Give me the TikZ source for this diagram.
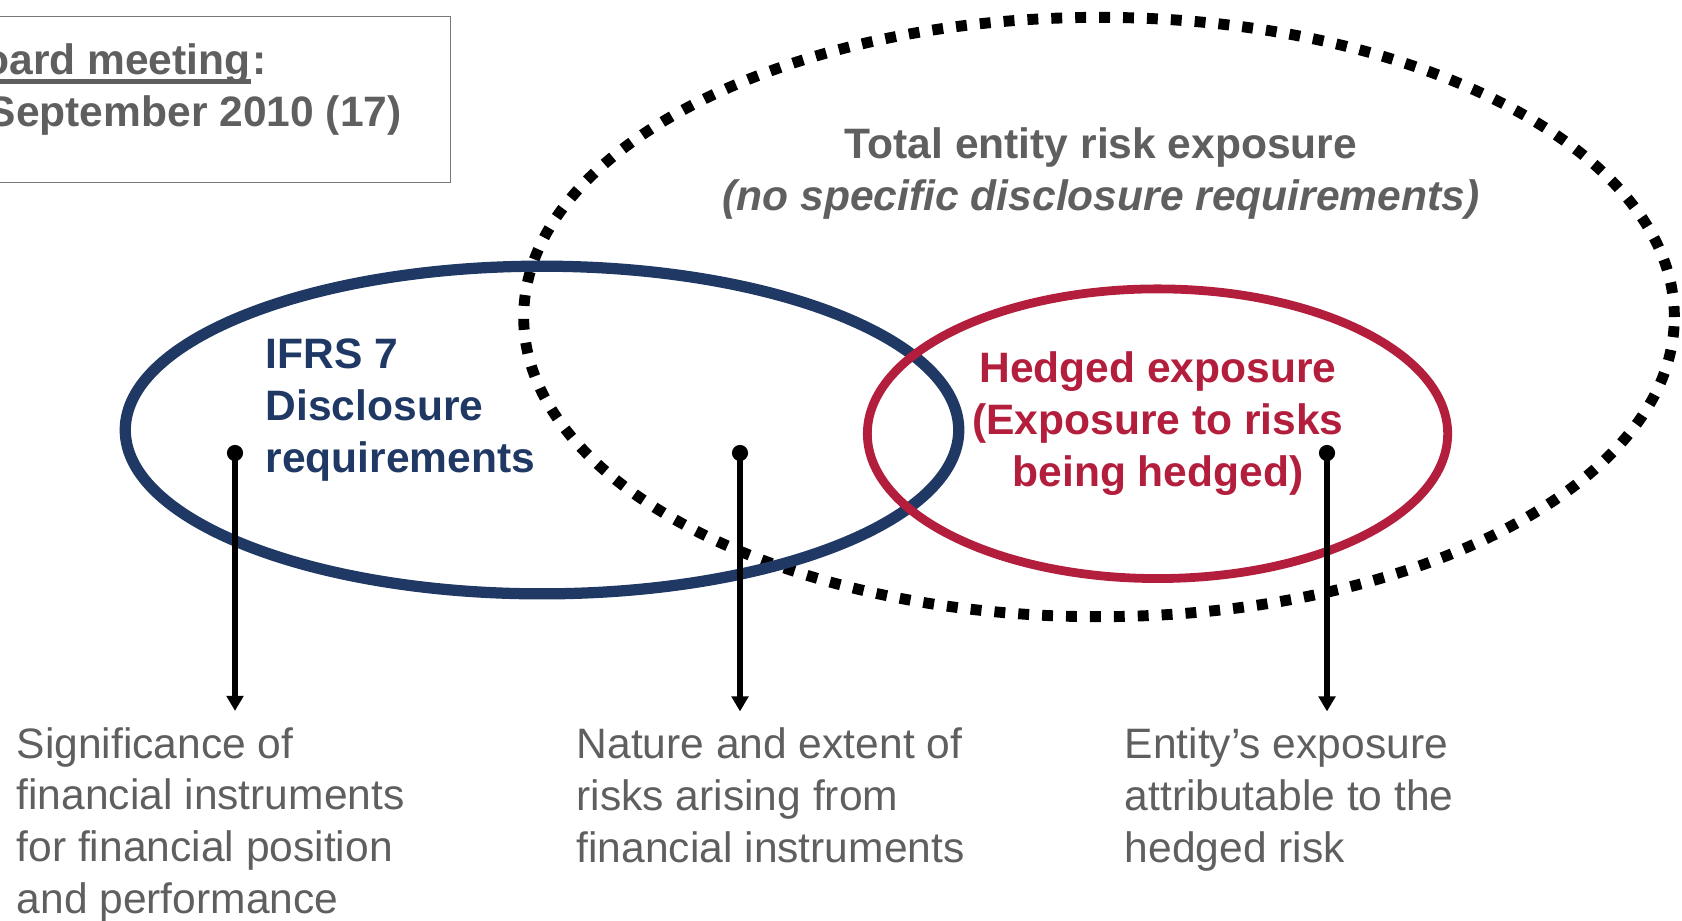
\documentclass[tikz,border=0pt]{standalone}
\usepackage{fontspec}
\setmainfont{Liberation Sans}
\usepackage{xcolor}
\usepackage{tikz}
\usetikzlibrary{arrows.meta,positioning,shapes.geometric}
\definecolor{ifrsblue}{RGB}{31,56,100}
\definecolor{hedgered}{RGB}{179,30,60}
\definecolor{textgray}{RGB}{95,95,95}
\definecolor{boxgray}{RGB}{120,120,120}
\tikzset{
  txt/.style={inner sep=0pt, font=\fontsize{12.1}{14.65}\selectfont},
  plain/.style={txt, text=textgray, align=left, anchor=base west},
  heavy/.style={txt, font=\fontsize{12.1}{14.65}\selectfont\bfseries},
  oval/.style={ellipse, inner sep=0pt},
  dot/.style={circle, fill=black, inner sep=0pt, minimum size=4.6pt},
  link/.style={line width=1.5pt, -{Triangle[length=4.3pt,width=4.7pt]}, shorten >=0.16cm}
}

\begin{document}
\begin{tikzpicture}[x=0.01cm, y=-0.01cm]
    \useasboundingbox (0,0) rectangle (1682,920);
    % Meeting box
    \draw[boxgray, line width=0.5pt] (-20,16.5) rectangle (450.5,182.5);
    \node[heavy, text=textgray, anchor=base west] (meeting) at (-48,74) {Board meeting};
    \node[heavy, text=textgray, right=0pt of meeting.base east, anchor=base west] (colon) {:};
    \draw[textgray, line width=1.2pt] ([yshift=-2.1pt]meeting.base west) -- ([yshift=-2.1pt]meeting.base east);
    \node[heavy, text=textgray, anchor=base west] (meetdate) at (-13,126) {September 2010 (17)};
    % Ellipses
    \node[oval, draw=black, line width=3.1pt, dash pattern=on 3.1pt off 3.7pt,
          minimum width=11.5cm, minimum height=5.99cm] (total) at (1099,317) {};
    \node[oval, draw=ifrsblue, line width=3.2pt,
          minimum width=8.33cm, minimum height=3.275cm] (ifrs) at (542,430) {};
    \node[oval, draw=hedgered, line width=2.5pt,
          minimum width=5.8cm, minimum height=2.895cm] (hedged) at (1157.5,433.7) {};
    % Labels (anchored on their last line)
    \node[heavy, text=textgray, align=center, anchor=base] (totaltxt) at (1101,210)
      {Total entity risk exposure\\\textit{(no specific disclosure requirements)}};
    \node[heavy, text=ifrsblue, align=left, anchor=base west] (ifrstxt) at (265,472)
      {IFRS 7\\Disclosure\\requirements};
    \node[heavy, text=hedgered, align=center, anchor=base] (hedgedtxt) at (1158,486)
      {Hedged exposure\\(Exposure to risks\\being hedged)};
    % Outcomes
    \node[plain] (signif) at (16,913)
      {Significance of\\financial instruments\\for financial position\\and performance};
    \node[plain] (nature) at (576,862)
      {Nature and extent of\\risks arising from\\financial instruments};
    \node[plain] (entity) at (1124,862)
      {Entity’s exposure\\attributable to the\\hedged risk};
    % Pointers
    \node[dot] (d1) at (235,453) {};
    \node[dot] (d2) at (740,453) {};
    \node[dot] (d3) at (1327,453) {};
    \draw[link] (d1.center) -- (d1 |- signif.north);
    \draw[link] (d2.center) -- (d2 |- nature.north);
    \draw[link] (d3.center) -- (d3 |- entity.north);
\end{tikzpicture}
\end{document}
